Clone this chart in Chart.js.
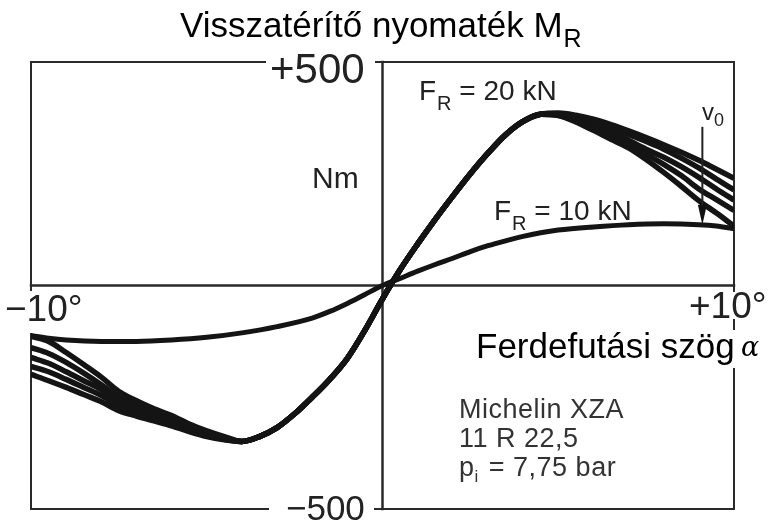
<!DOCTYPE html>
<html><head><meta charset="utf-8">
<script src="https://cdn.jsdelivr.net/npm/chart.js@4/dist/chart.umd.min.js"></script>
<style>html,body{margin:0;padding:0;background:#fff}canvas{display:block}</style>
</head><body>
<canvas id="c" width="779" height="527"></canvas>
<script>
// ---- data (slip angle in degrees, self-aligning torque in Nm) ----
const xLeft  = [-10,-9.5,-9,-8.5,-8,-7.5,-7,-6.5,-6,-5.5,-5,-4.5];
const f20LeftA = [-114,-125,-150,-177,-205,-237,-258,-276,-291,-310,-325,-338];
const f20LeftB = [-139,-152,-172,-196,-222,-250,-268,-285,-299,-316,-330,-341];
const f20LeftC = [-161,-174,-193,-213,-233,-259,-276,-292,-305,-320,-333,-342];
const f20LeftD = [-181,-193,-210,-228,-246,-269,-285,-298,-310,-324,-336,-344];
const f20LeftE = [-199,-213,-228,-244,-260,-280,-292,-303,-314,-327,-338,-345];

const xMain  = [-4,-3.5,-3,-2.5,-2,-1.5,-1,-0.5,0,0.5,1,1.5,2,2.5,3,3.5,4,4.5];
const f20Main = [-349,-338,-318,-287,-250,-210,-163,-100,-30,35,93,148,200,250,296,337,367,383];

const xRight = [5,5.5,6,6.5,7,7.5,8,8.5,9,9.5,10];
const f20RightA = [386,381,372,360,346,331,315,298,280,260,240];
const f20RightB = [384,378,368,354,338,322,305,285,263,238,214];
const f20RightC = [382,374,362,345,325,305,287,266,242,216,191];
const f20RightD = [381,370,355,336,316,294,271,246,216,192,168];
const f20RightE = [380,366,347,327,308,282,253,222,190,162,133];

const x10 = [-10,-9.5,-9,-8,-7,-6,-5,-4,-3,-2,-1.5,-1,-0.5,0,0.5,1,1.5,2,2.5,3,3.5,4,4.5,5,6,7,8,9,9.5,10];
const f10 = [-112,-118,-122,-125,-125,-122,-116,-106,-92,-73,-58,-40,-20,0,16,32,47,61,76,89,100,110,118,124,131,136,138,136,133,127];

const xTickLabels = ['\u221210\u00b0', '+10\u00b0'];
const yTickLabels = ['+500', '\u2212500'];
const v0Arrow = {x: 9.1, from: 355, to: 136};

// ---- build datasets ----
function pts(xs, ys){ return xs.map((v,i)=>({x:v, y:ys[i]})); }
const leftBands  = [f20LeftA,f20LeftB,f20LeftC,f20LeftD,f20LeftE];
const rightBands = [f20RightA,f20RightB,f20RightC,f20RightD,f20RightE];
const ink = '#141414';
const datasets = [];
for (let i=0;i<5;i++){
  datasets.push({
    label:'F_R = 20 kN ' + (i+1),
    data: pts(xLeft, leftBands[i]).concat(pts(xMain, f20Main), pts(xRight, rightBands[i])),
    borderColor: ink, borderWidth: 5.5, pointRadius: 0, fill: false,
    cubicInterpolationMode: 'monotone'
  });
}
datasets.push({
  label:'F_R = 10 kN', data: pts(x10, f10),
  borderColor: ink, borderWidth: 5, pointRadius: 0, fill: false,
  cubicInterpolationMode: 'monotone'
});

const SANS = "'Liberation Sans', Arial, Helvetica, sans-serif";
function parts(ctx, x, y, list){
  let cx = x;
  for (const p of list){
    ctx.font = p.f;
    ctx.fillText(p.t, cx, y + (p.dy||0));
    cx += ctx.measureText(p.t).width + (p.gap||0);
  }
}

const framePlugin = {
  id: 'frame',
  beforeDatasetsDraw(chart){
    const {ctx, chartArea:a, scales:{x, y}} = chart;
    const x0 = x.getPixelForValue(0), y0 = y.getPixelForValue(0);
    const seg = (x1,y1,x2,y2)=>{ ctx.beginPath(); ctx.moveTo(x1,y1); ctx.lineTo(x2,y2); ctx.stroke(); };
    ctx.save();
    ctx.strokeStyle = '#2a2a2a'; ctx.lineWidth = 2; ctx.lineCap = 'square';
    seg(a.left, a.top, 265, a.top); seg(376, a.top, a.right, a.top);
    seg(a.left, a.bottom, 268, a.bottom); seg(375, a.bottom, a.right, a.bottom);
    seg(a.left, a.top, a.left, 290); seg(a.left, 334, a.left, a.bottom);
    seg(a.right, a.top, a.right, 291); seg(a.right, 320, a.right, 329); seg(a.right, 369, a.right, a.bottom);
    ctx.lineWidth = 2.5;
    seg(a.left, y0, a.right, y0);
    seg(x0, a.top, x0, a.bottom);
    ctx.restore();
  },
  afterDatasetsDraw(chart){
    const {ctx, scales:{x, y}} = chart;
    ctx.save();
    ctx.textBaseline = 'alphabetic'; ctx.textAlign = 'left';
    ctx.fillStyle = '#000';
    parts(ctx, 180, 37, [{t:'Visszatérítő nyomaték M', f:'35px '+SANS, gap:1},{t:'R', f:'25px '+SANS, dy:10}]);
    ctx.fillStyle = '#222';
    ctx.font = '42px ' + SANS; ctx.fillText(yTickLabels[0], 270, 83);
    ctx.font = '35px ' + SANS; ctx.fillText(yTickLabels[1], 286, 520);
    ctx.font = '37px ' + SANS; ctx.fillText(xTickLabels[0], 5, 321);
    ctx.fillText(xTickLabels[1], 689, 318);
    ctx.fillStyle = '#000';
    ctx.font = '35px ' + SANS; ctx.fillText('Ferdefutási szög', 476, 358);
    ctx.font = "italic 27px 'DejaVu Serif', 'Liberation Serif', serif"; ctx.fillText('\u03b1', 741, 356);
    ctx.fillStyle = '#222';
    ctx.font = '30px ' + SANS; ctx.fillText('Nm', 312, 188);
    parts(ctx, 419, 100, [{t:'F', f:'28px '+SANS, gap:1},{t:'R', f:'20px '+SANS, dy:10},{t:' = 20 kN', f:'28px '+SANS}]);
    parts(ctx, 494, 220, [{t:'F', f:'28px '+SANS, gap:1},{t:'R', f:'20px '+SANS, dy:10},{t:' = 10 kN', f:'28px '+SANS}]);
    parts(ctx, 702, 120, [{t:'v', f:'24px '+SANS},{t:'0', f:'18px '+SANS, dy:6}]);
    ctx.fillStyle = '#333';
    ctx.letterSpacing = '0.5px';
    ctx.font = '27px ' + SANS;
    ctx.fillText('Michelin XZA', 459, 418);
    ctx.fillText('11 R 22,5', 459, 447);
    parts(ctx, 459, 476, [{t:'p', f:'27px '+SANS},{t:'i', f:'17px '+SANS, dy:6, gap:2},{t:' = 7,75 bar', f:'27px '+SANS}]);
    ctx.letterSpacing = '0px';
    const ax = x.getPixelForValue(v0Arrow.x), ay1 = y.getPixelForValue(v0Arrow.from), ay2 = y.getPixelForValue(v0Arrow.to);
    ctx.strokeStyle = '#222'; ctx.lineWidth = 2;
    ctx.beginPath(); ctx.moveTo(ax, ay1); ctx.lineTo(ax, ay2 - 14); ctx.stroke();
    ctx.fillStyle = '#111';
    ctx.beginPath(); ctx.moveTo(ax - 4.5, ay2 - 20); ctx.lineTo(ax + 4.5, ay2 - 20); ctx.lineTo(ax, ay2); ctx.closePath(); ctx.fill();
    ctx.restore();
  }
};

new Chart(document.getElementById('c'), {
  type: 'line',
  data: { datasets },
  options: {
    responsive: false, animation: false, devicePixelRatio: 1,
    layout: { padding: { left: 31, right: 45, top: 62, bottom: 18 } },
    plugins: { legend: { display: false }, tooltip: { enabled: false } },
    scales: {
      x: { type: 'linear', min: -10, max: 10, display: false },
      y: { type: 'linear', min: -500, max: 500, display: false }
    }
  },
  plugins: [framePlugin]
});
</script>
</body></html>
